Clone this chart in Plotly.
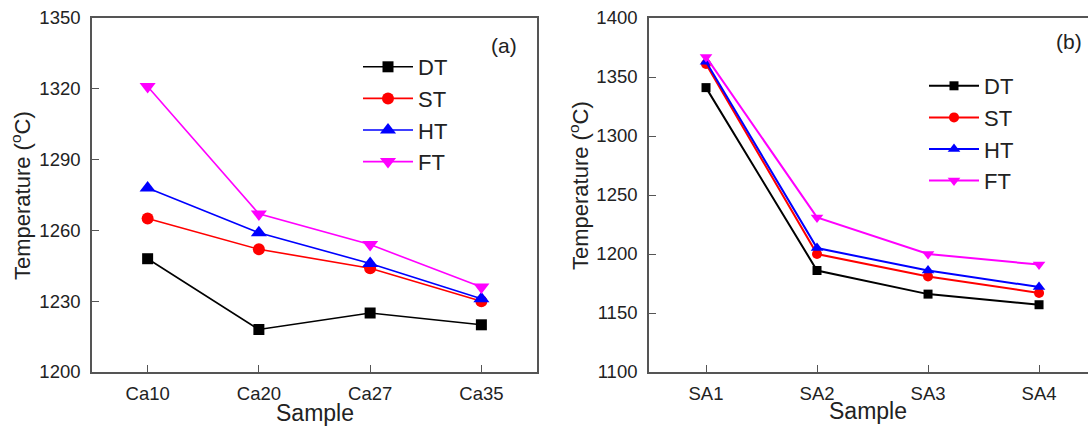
import plotly.graph_objects as go

# ---- data ----
cats_a = ["Ca10", "Ca20", "Ca27", "Ca35"]
dt_a = [1248, 1218, 1225, 1220]
st_a = [1265, 1252, 1244, 1230]
ht_a = [1278, 1259, 1246, 1231]
ft_a = [1321, 1267, 1254, 1236]

cats_b = ["SA1", "SA2", "SA3", "SA4"]
dt_b = [1341, 1186, 1166, 1157]
st_b = [1361, 1200, 1181, 1167]
ht_b = [1363, 1205, 1186, 1172]
ft_b = [1367, 1231, 1200, 1191]

series_names = ["DT", "ST", "HT", "FT"]
colors = ["#000000", "#ff0000", "#0000ff", "#ff00ff"]
symbols = ["square", "circle", "triangle-up", "triangle-down"]
sizes_a = [11, 12, 14, 14]
sizes_b = [9, 10, 11, 11]

W, H = 1088, 428
FONT = "Liberation Sans, Arial, sans-serif"
AX = "#555555"

fig = go.Figure()

for name, vals, c, s, sz in zip(series_names, [dt_a, st_a, ht_a, ft_a], colors, symbols, sizes_a):
    fig.add_trace(go.Scatter(
        x=cats_a, y=vals, name=name, mode="lines+markers",
        line=dict(color=c, width=1.6),
        marker=dict(symbol=s, size=sz, color=c),
        xaxis="x", yaxis="y", legend="legend"))

for name, vals, c, s, sz in zip(series_names, [dt_b, st_b, ht_b, ft_b], colors, symbols, sizes_b):
    fig.add_trace(go.Scatter(
        x=cats_b, y=vals, name=name, mode="lines+markers",
        line=dict(color=c, width=2),
        marker=dict(symbol=s, size=sz, color=c),
        xaxis="x2", yaxis="y2", legend="legend2"))

def px_x(v):
    return v / W

def px_y(v):
    return 1 - v / H

axis_common = dict(showline=True, linecolor=AX, linewidth=1.6, ticks="inside",
                   ticklen=7, tickwidth=1.3, tickcolor=AX, showgrid=False,
                   zeroline=False, automargin=False,
                   tickfont=dict(family=FONT, size=18.5, color="#222"))

fig.update_layout(
    template="none",
    width=W, height=H, autosize=False,
    margin=dict(l=0, r=0, t=0, b=0, pad=0, autoexpand=False),
    paper_bgcolor="white", plot_bgcolor="white",
    font=dict(family=FONT, color="#222"),
    xaxis=dict(domain=[px_x(92), px_x(537)], range=[-0.5, 3.5], mirror=True,
               anchor="y", ticklabelstandoff=4, **axis_common),
    yaxis=dict(domain=[px_y(372), px_y(18)], range=[1200, 1350], dtick=30, mirror=True,
               anchor="x", ticklabelstandoff=6, **axis_common),
    xaxis2=dict(domain=[px_x(649), 1.0], range=[-0.5135, 3.441], mirror=True,
                anchor="y2", ticklabelstandoff=4, **axis_common),
    yaxis2=dict(domain=[px_y(372), px_y(18)], range=[1100, 1400], dtick=50, mirror=False,
                anchor="x2", ticklabelstandoff=6, **axis_common),
    legend=dict(x=px_x(358), y=px_y(46), xanchor="left", yanchor="top",
                bgcolor="rgba(0,0,0,0)", font=dict(family=FONT, size=22, color="#222"),
                itemwidth=50, tracegroupgap=0),
    legend2=dict(x=px_x(924), y=px_y(65), xanchor="left", yanchor="top",
                 bgcolor="rgba(0,0,0,0)", font=dict(family=FONT, size=22, color="#222"),
                 itemwidth=50, tracegroupgap=0),
    showlegend=True,
)

def note(text, x, y, size, angle=0):
    return dict(text=text, x=px_x(x), y=px_y(y), xref="paper", yref="paper",
                xanchor="center", yanchor="middle", showarrow=False, textangle=angle,
                font=dict(family=FONT, size=size, color="#222"))

ann = [
    note("(a)", 504, 46, 21),
    note("(b)", 1069, 42, 21),
    note("Temperature (<sup>o</sup>C)", 21, 196, 22, -90),
    note("Temperature (<sup>o</sup>C)", 579, 186, 22, -90),
    note("Sample", 315, 413, 23),
    note("Sample", 868, 411, 23),
]
fig.update_layout(annotations=ann)

fig.write_html("out.html")
